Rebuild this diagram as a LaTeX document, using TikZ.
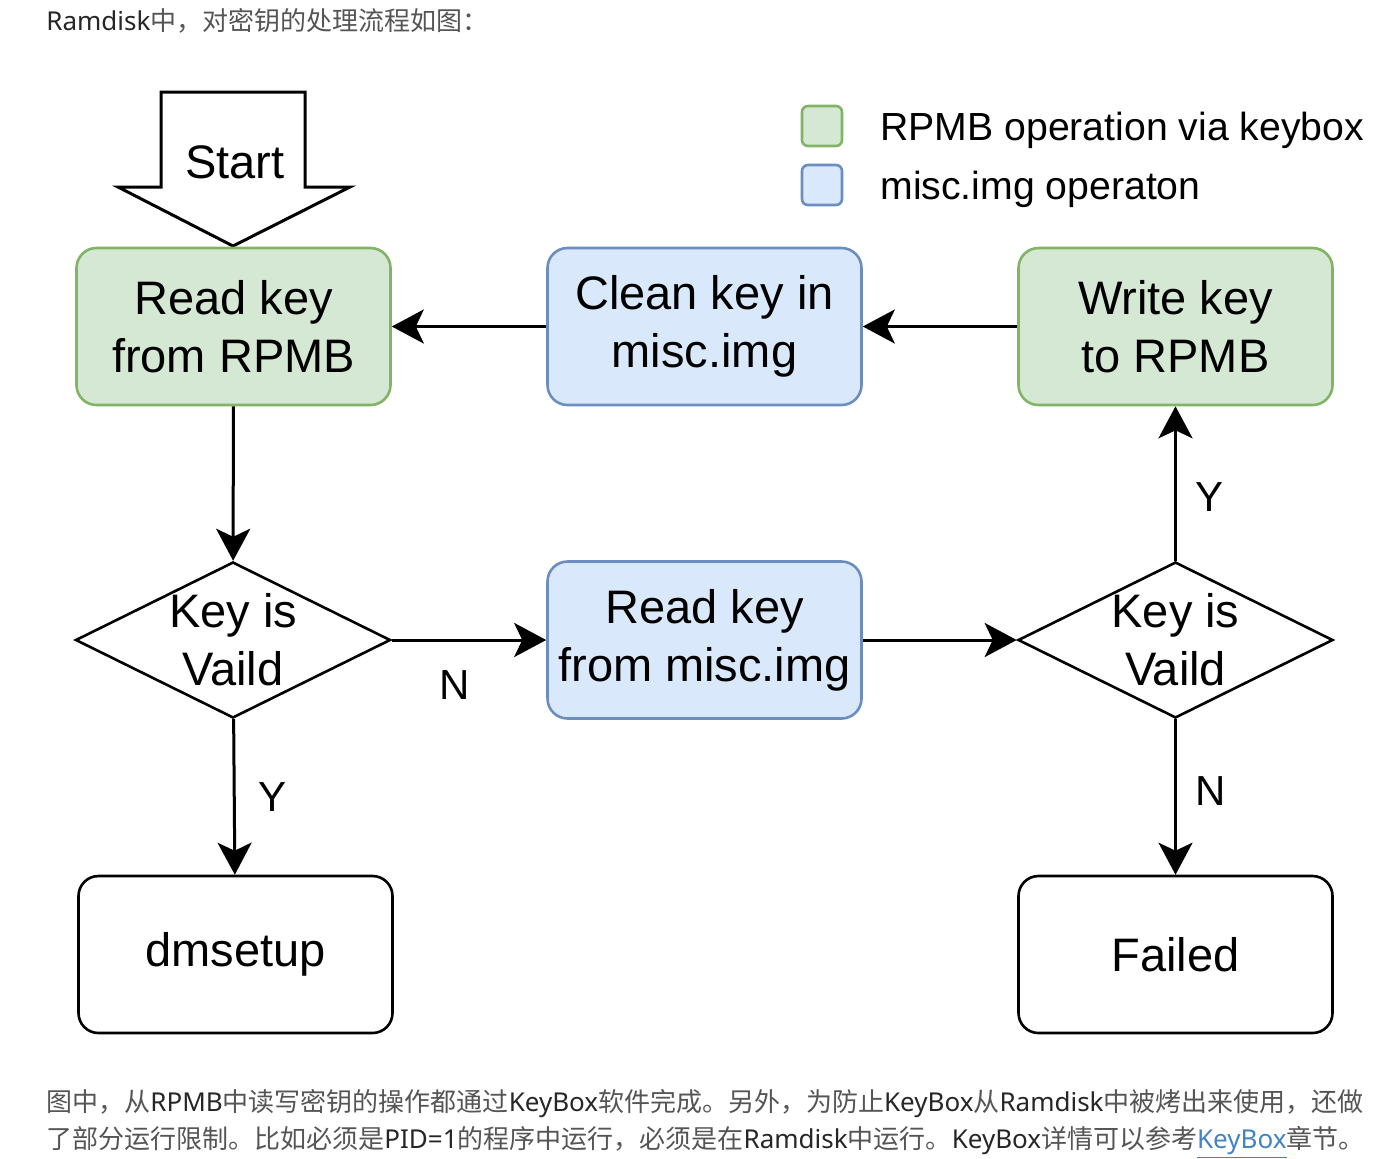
\documentclass[tikz,border=0pt]{standalone}
\usepackage{fontspec}
\setmainfont{Liberation Sans}
\newfontfamily\bodyfont{Noto Sans}
\newfontfamily\cjk{Noto Sans CJK SC}
\usepackage{xcolor}
\usetikzlibrary{shapes.geometric,arrows.meta,positioning}
\definecolor{opgreen}{HTML}{D5E8D4}
\definecolor{opgreenline}{HTML}{82B366}
\definecolor{opblue}{HTML}{DAE8FC}
\definecolor{opblueline}{HTML}{6C8EBF}
\definecolor{zhgray}{HTML}{555555}
\definecolor{linkblue}{HTML}{4183C4}
\newcommand{\zh}[1]{{\cjk\color{zhgray}#1}}

\begin{document}
\begin{tikzpicture}[
    x=0.5pt, y=-0.5pt,
    every node/.style={font=\fontsize{23.5}{29}\selectfont},
    box/.style={draw, line width=1.3pt, rounded corners=10pt, minimum width=157pt,
                minimum height=78.5pt, align=center, inner sep=0pt},
    rpmb/.style={box, fill=opgreen, draw=opgreenline},
    misc/.style={box, fill=opblue, draw=opblueline},
    check/.style={diamond, draw, line width=1.3pt, minimum width=157.5pt,
                  minimum height=78pt, inner sep=0pt},
    flow/.style={-{Stealth[length=16pt, width=17pt, inset=4pt]}, line width=1.5pt},
    yn/.style={font=\fontsize{21}{24}\selectfont},
    key/.style={draw, line width=1.3pt, rounded corners=3pt, minimum size=20pt, inner sep=0pt},
    keytxt/.style={font=\fontsize{19.6}{22}\selectfont, yshift=-2pt},
    para/.style={anchor=west, inner sep=0pt, font=\bodyfont\fontsize{13}{15}\selectfont, text=black!85}
]
    \useasboundingbox (0,0) rectangle (1390,1158);

    % Text round the figure
    \node[para] (intro) at (46,21) {Ramdisk\zh{中，对密钥的处理流程如图：}};
    \node[para] (note1) at (46,1104) {\zh{图中，从}RPMB\zh{中读写密钥的操作都通过}KeyBox\zh{软件完成。另外，为防止}KeyBox\zh{从}Ramdisk\zh{中被烤出来使用，还做}};
    \node[para] (note2) at (46,1142) {\zh{了部分运行限制。比如必须是}PID=1\zh{的程序中运行，必须是在}Ramdisk\zh{中运行。}KeyBox\zh{详情可以参考}\textcolor{linkblue}{\underline{KeyBox}}\zh{章节。}};

    % Start arrow
    \draw[line width=1.5pt, fill=white] (161,92) -- (305,92) -- (305,187) -- (350,187)
        -- (233,246) -- (118,187) -- (161,187) -- cycle;
    \node (start) at (235,162) {Start};

    % Legend
    \node[key, fill=opgreen, draw=opgreenline] (keyrpmb) at (822,126) {};
    \node[key, fill=opblue, draw=opblueline] (keymisc) at (822,185) {};
    \node[keytxt, right=15pt of keyrpmb] (txtrpmb) {RPMB operation via keybox};
    \node[keytxt, right=15pt of keymisc] (txtmisc) {misc.img operaton};

    % Steps
    \node[rpmb] (rdrpmb) at (233.5,326.5) {Read key\\from RPMB};
    \node[misc] (clean) at (704.5,326.5) {Clean key in\\misc.img};
    \node[rpmb] (wrrpmb) at (1175.5,326.5) {Write key\\to RPMB};
    \node[check, label={[align=center]center:{Key is\\Vaild}}] (chk1) at (233,640) {};
    \node[misc] (rdmisc) at (704.5,640) {Read key\\from misc.img};
    \node[check, label={[align=center]center:{Key is\\Vaild}}] (chk2) at (1175.5,640) {};
    \node[box, fill=white] (dmsetup) at (235.5,954.5) {dmsetup};
    \node[box, fill=white] (failed) at (1175.5,954.5) {Failed};

    % Connectors
    \draw[flow] (rdrpmb) -- (chk1);
    \draw[flow] (chk1) -- (rdmisc) node[yn, pos=0.41, below=11pt] {N};
    \draw[flow] (rdmisc) -- (chk2);
    \draw[flow] (chk2) -- (wrrpmb) node[yn, pos=0.41, right=6pt] {Y};
    \draw[flow] (chk2) -- (failed) node[yn, pos=0.46, right=6pt] {N};
    \draw[flow] (wrrpmb) -- (clean);
    \draw[flow] (clean) -- (rdrpmb);
    \draw[flow] (chk1) -- (dmsetup) node[yn, pos=0.5, right=8pt] {Y};
\end{tikzpicture}
\end{document}
